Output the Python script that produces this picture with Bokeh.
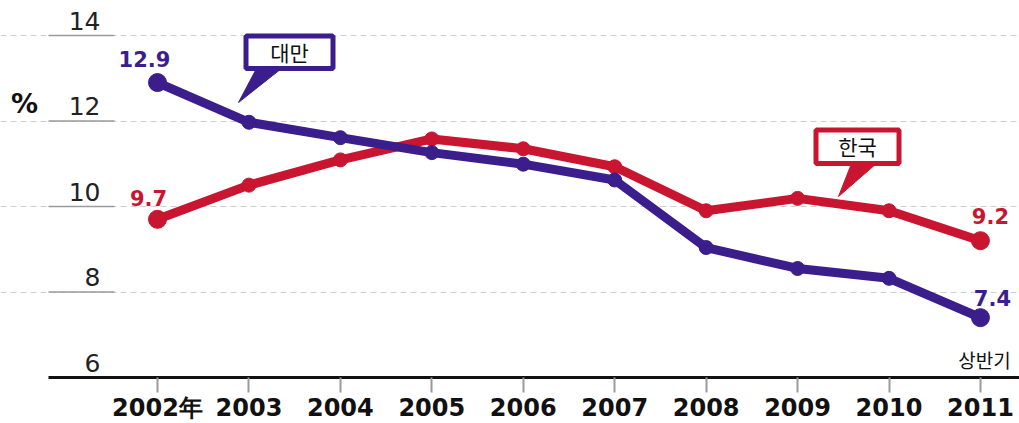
from bokeh.plotting import figure
from bokeh.models import Range1d, FixedTicker
from bokeh.core.properties import value
from bokeh.embed import file_html
from bokeh.resources import INLINE

# ---- data ----
years = ["2002年", "2003", "2004", "2005", "2006", "2007", "2008", "2009", "2010", "2011"]
taiwan = [12.9, 11.97, 11.61, 11.26, 10.99, 10.62, 9.04, 8.55, 8.32, 7.4]
korea = [9.7, 10.5, 11.09, 11.58, 11.35, 10.93, 9.9, 10.19, 9.9, 9.2]
y_ticks = [6, 8, 10, 12, 14]
y_tick_labels = ["6", "8", "10", "12", "14"]
taiwan_name = "대만"
korea_name = "한국"
period_note = "상반기"

PURPLE = "#3b1e8c"
RED = "#c9152f"

# ---- pixel <-> data helpers (layout only) ----
XS = 91.44
X_LEFT = -157 / XS
YS = 42.75
Y_TOP = 6 + 377 / YS


def dx(px):
    return X_LEFT + px / XS


def dy(py):
    return Y_TOP - py / YS


xs = list(range(len(years)))

p = figure(width=1019, height=423,
           x_range=Range1d(dx(0), dx(1019)), y_range=Range1d(dy(423), dy(0)),
           output_backend="svg", toolbar_location=None,
           min_border_left=0, min_border_right=0, min_border_top=0, min_border_bottom=0)
p.outline_line_color = None
p.background_fill_color = "white"
p.border_fill_color = "white"
p.yaxis.visible = False
p.xgrid.visible = False

p.ygrid.ticker = FixedTicker(ticks=y_ticks[1:])
p.ygrid.grid_line_color = "#cfcfcf"
p.ygrid.grid_line_dash = "6 4"
p.ygrid.grid_line_width = 1

ax = p.xaxis[0]
ax.fixed_location = y_ticks[0]
ax.bounds = (dx(48), dx(1019))
ax.ticker = FixedTicker(ticks=xs)
ax.major_label_overrides = {i: y for i, y in enumerate(years)}
ax.axis_line_color = "#111111"
ax.axis_line_width = 3
ax.major_tick_line_color = "#9a9a9a"
ax.major_tick_line_width = 2
ax.major_tick_in = 0
ax.major_tick_out = 15
ax.minor_tick_out = 0
ax.minor_tick_in = 0
ax.major_label_standoff = 1
ax.major_label_text_font = "DejaVu Sans"
ax.major_label_text_font_style = "bold"
ax.major_label_text_font_size = "24px"
ax.major_label_text_color = "#111111"

# solid left parts of grid lines
p.segment(x0=[dx(48)] * 4, x1=[dx(114)] * 4, y0=y_ticks[1:], y1=y_ticks[1:],
          line_color="#9a9a9a", line_width=1.5)

# y tick labels
p.text(x=[dx(100)] * len(y_ticks), y=y_ticks, text=y_tick_labels,
       text_align="right", text_baseline="middle", y_offset=-15,
       text_font=value("DejaVu Sans"), text_font_size="25px", text_color="#222222")
p.text(x=[dx(24)], y=[dy(103)], text=["%"], text_align="center", text_baseline="middle",
       text_font=value("DejaVu Sans"), text_font_style="bold", text_font_size="27px",
       text_color="#111111")

# series
for vals, col in [(korea, RED), (taiwan, PURPLE)]:
    p.line(xs, vals, line_color=col, line_width=9, line_join="round", line_cap="round")
    p.scatter(xs[1:-1], vals[1:-1], size=14, fill_color=col, line_color=col)
    p.scatter([xs[0], xs[-1]], [vals[0], vals[-1]], size=18, fill_color=col, line_color=col)

# end value labels
lab_specs = [
    (xs[0], taiwan[0], PURPLE, -13, -24),
    (xs[0], korea[0], RED, -9, -21),
    (xs[-1], korea[-1], RED, 10, -25),
    (xs[-1], taiwan[-1], PURPLE, 12, -20),
]
for x, v, col, ox, oy in lab_specs:
    p.text(x=[x], y=[v], text=[f"{v:.1f}"], x_offset=ox, y_offset=oy,
           text_align="center", text_baseline="middle",
           text_font=value("DejaVu Sans"), text_font_style="bold", text_font_size="21px",
           text_color=col)

# callouts
def callout(box, tail, label, col):
    l, r, t, b = box
    p.patch([dx(tail[0][0]), dx(tail[1][0]), dx(tail[2][0])],
            [dy(tail[0][1]), dy(tail[1][1]), dy(tail[2][1])],
            fill_color=col, line_color=col, line_width=1)
    p.quad(left=[dx(l + 2.5)], right=[dx(r - 2.5)], top=[dy(t + 2.5)], bottom=[dy(b - 3)],
           fill_color="white", line_color=col, line_width=5)
    p.text(x=[dx((l + r) / 2)], y=[dy((t + b) / 2 - 1)], text=[label],
           text_align="center", text_baseline="middle",
           text_font=value("Noto Sans CJK KR"), text_font_size="21px", text_color="#111111")


callout((243, 335, 33, 71), ((256, 68), (281, 68), (238, 102)), taiwan_name, PURPLE)
callout((813, 901, 127, 166), ((851, 163), (876, 163), (838, 196)), korea_name, RED)

p.text(x=[xs[-1]], y=[y_ticks[0]], text=[period_note], x_offset=4, y_offset=-18,
       text_align="center", text_baseline="middle",
       text_font=value("Noto Sans CJK KR"), text_font_size="19px", text_color="#111111")

open("out.html", "w").write(file_html(p, INLINE))
